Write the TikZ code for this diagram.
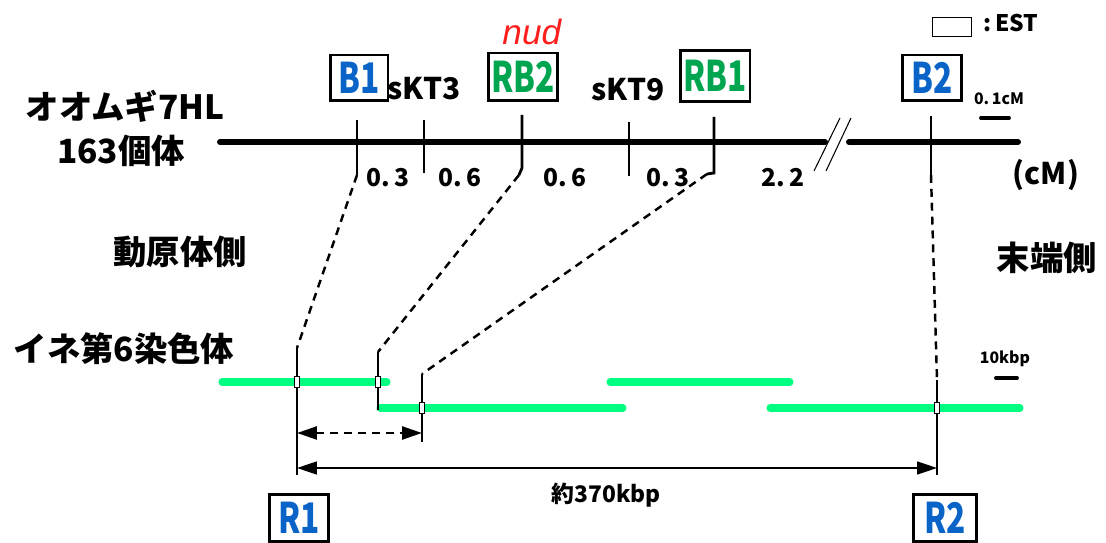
\documentclass[tikz,border=0pt]{standalone}
\usepackage{graphicx}
\usepackage{fontspec}
\setmainfont{Noto Sans CJK JP}
\newfontfamily\genefont{Liberation Sans}
\usetikzlibrary{positioning,arrows.meta}

\definecolor{mkblue}{RGB}{10,100,200}
\definecolor{mkgreen}{RGB}{0,165,80}
\definecolor{ricegreen}{RGB}{0,255,128}
\definecolor{nudred}{RGB}{255,30,30}
\newcommand{\narrowtxt}[1]{\scalebox{0.75}[1]{#1}}

\begin{document}
\begin{tikzpicture}[x=0.02cm, y=-0.02cm,
    marker/.style={draw, line width=1.7pt, inner sep=0pt, minimum height=0.92cm,
      font=\bfseries\fontsize{24}{24}\selectfont},
    bmark/.style={marker, text=mkblue},
    gmark/.style={marker, text=mkgreen},
    lbl/.style={font=\bfseries\fontsize{19}{19}\selectfont},
    loc/.style={font=\bfseries\fontsize{17}{17}\selectfont},
    dist/.style={font=\bfseries\fontsize{14}{14}\selectfont},
    small/.style={font=\bfseries\fontsize{9}{9}\selectfont},
    chrom/.style={line width=3.4pt, line cap=round},
    tick/.style={line width=1.6pt},
    link/.style={line width=1.4pt, dash pattern=on 4.5pt off 3.4pt},
    contig/.style={line width=4pt, line cap=round, draw=ricegreen},
    est/.style={draw, fill=white, line width=0.5pt, inner sep=0pt,
      minimum width=0.11cm, minimum height=0.21cm},
    >={Triangle[length=0.4cm,width=0.26cm]}]
  \useasboundingbox (0,0) rectangle (1106,543);

  % barley map
  \node[lbl] (barley) at (125,106) {オオムギ7HL};
  \node[lbl] (plants) at (121,151) {163個体};
  \draw[chrom] (220,142) -- (825,142);
  \draw[chrom] (849,142) -- (1018,142);
  \draw[line width=0.6pt] (840,118) -- (814,171) (851,118) -- (826,171);

  \coordinate (B1bot) at (357,175);
  \coordinate (RB2bot) at (519,175);
  \coordinate (RB1bot) at (707,174);
  \coordinate (B2bot) at (931,175);
  \draw[tick] (357,120) -- (B1bot);
  \draw[tick] (424,120) -- (424,173);
  \draw[tick] (522,115) -- (522,168) -- (RB2bot);
  \draw[tick] (629,122) -- (629,176);
  \draw[tick] (714,117) -- (714,173) -- (RB1bot);
  \draw[tick] (931,116) -- (B2bot);

  \node[bmark, minimum width=1.16cm] (B1) at (359,78) {\narrowtxt{B1}};
  \node[gmark, minimum width=1.38cm, minimum height=0.96cm] (RB2) at (523,77) {\narrowtxt{RB2}};
  \node[gmark, minimum width=1.4cm, minimum height=1.02cm] (RB1) at (715,76) {\narrowtxt{RB1}};
  \node[bmark, minimum width=1.18cm] (B2) at (932,78) {\narrowtxt{B2}};
  \node[loc] (sKT3) at (424,89) {sKT3};
  \node[loc] (sKT9) at (628,90) {sKT9};
  \node[above=0pt of RB2, xshift=5pt, text=nudred,
    font=\genefont\itshape\fontsize{20}{20}\selectfont] (nud) {nud};

  \node[dist] (d1) at (388,178) {0.\,3};
  \node[dist] (d2) at (460,178) {0.\,6};
  \node[dist] (d3) at (565,178) {0.\,6};
  \node[dist] (d4) at (668,178) {0.\,3};
  \node[dist] (d5) at (783,178) {2.\,2};
  \node[loc] (cM) at (1046,175) {(cM)};

  % legend and scales
  \node[draw, line width=0.6pt, minimum width=0.78cm, minimum height=0.38cm,
    inner sep=0pt] (estkey) at (952,27) {};
  \node[font=\bfseries\fontsize{13}{13}\selectfont] (estlbl) at (1011,23) {:\,EST};
  \node[small] (cMbar) at (999,99) {0.\,1cM};
  \draw[line width=2.2pt, line cap=round] (981,118) -- (1009,118);
  \node[small] (kbpbar) at (1005,359) {10kbp};
  \draw[line width=2.2pt, line cap=round] (996,378) -- (1017,378);

  \node[lbl] (cen) at (180,252) {動原体側};
  \node[lbl] (tel) at (1047,258) {末端側};

  % rice chromosome
  \node[lbl] (rice) at (124,349) {イネ第6染色体};
  \draw[contig] (222,382) -- (387,382);
  \draw[contig] (380,408) -- (623,408);
  \draw[contig] (610,382) -- (790,382);
  \draw[contig] (770,408) -- (1020,408);

  \coordinate (R1top) at (297,348);
  \coordinate (R1bot) at (297,475);
  \coordinate (E2top) at (378,352);
  \coordinate (E3top) at (422,374);
  \coordinate (E3bot) at (422,442);
  \coordinate (R2top) at (937,380);
  \coordinate (R2bot) at (937,475);
  \draw[tick] (R1top) -- (R1bot);
  \draw[tick] (E2top) -- (378,410);
  \draw[tick] (E3top) -- (E3bot);
  \draw[tick] (R2top) -- (R2bot);

  \draw[link] (B1bot) -- (R1top);
  \draw[link] (RB2bot) -- (E2top);
  \draw[link] (RB1bot) -- (E3top);
  \draw[link] (B2bot) -- (R2top);

  \node[est] (e1) at (297,382) {};
  \node[est] (e2) at (378,382) {};
  \node[est] (e3) at (422,408) {};
  \node[est] (e4) at (937,408) {};

  \draw[<->, line width=1.4pt, dash pattern=on 4.5pt off 3.4pt] (297,433) -- (422,433);
  \draw[<->, line width=1pt] (297,468) -- (937,468);
  \node[font=\bfseries\fontsize{13}{13}\selectfont] (span) at (606,495) {約370kbp};

  \node[bmark, minimum width=1.18cm, minimum height=0.94cm] (R1) at (299,518) {\narrowtxt{R1}};
  \node[bmark, minimum width=1.26cm, minimum height=0.94cm] (R2) at (945,518) {\narrowtxt{R2}};
\end{tikzpicture}
\end{document}
